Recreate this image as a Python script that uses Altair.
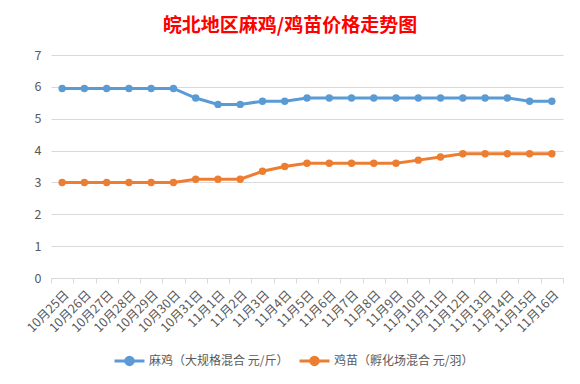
import altair as alt
import pandas as pd

dates = ["10月25日", "10月26日", "10月27日", "10月28日", "10月29日", "10月30日",
         "10月31日", "11月1日", "11月2日", "11月3日", "11月4日", "11月5日",
         "11月6日", "11月7日", "11月8日", "11月9日", "11月10日", "11月11日",
         "11月12日", "11月13日", "11月14日", "11月15日", "11月16日"]
ma_ji = [5.95, 5.95, 5.95, 5.95, 5.95, 5.95, 5.65, 5.45, 5.45, 5.55, 5.55, 5.65,
         5.65, 5.65, 5.65, 5.65, 5.65, 5.65, 5.65, 5.65, 5.65, 5.55, 5.55]
ji_miao = [3.0, 3.0, 3.0, 3.0, 3.0, 3.0, 3.1, 3.1, 3.1, 3.35, 3.5, 3.6,
           3.6, 3.6, 3.6, 3.6, 3.7, 3.8, 3.9, 3.9, 3.9, 3.9, 3.9]
series_names = ["麻鸡（大规格混合 元/斤）", "鸡苗（孵化场混合 元/羽）"]
colors = ["#5B9BD5", "#ED7D31"]

rows = []
for name, vals in zip(series_names, [ma_ji, ji_miao]):
    for d, v in zip(dates, vals):
        rows.append({"date": d, "series": name, "price": v})
df = pd.DataFrame(rows)

FONT = "Noto Sans CJK SC"
GREY = "#595959"

x = alt.X("date:N", sort=dates, title=None,
          scale=alt.Scale(paddingInner=0, paddingOuter=0),
          axis=alt.Axis(labelAngle=-45, labelColor=GREY, labelFontSize=12.5, labelFont=FONT,
                        domainColor="#D9D9D9", tickColor="#D9D9D9", tickSize=5,
                        tickBand="extent", labelPadding=5, grid=False))
y = alt.Y("price:Q", title=None,
          scale=alt.Scale(domain=[0, 7], nice=False),
          axis=alt.Axis(values=[0, 1, 2, 3, 4, 5, 6, 7], labelColor=GREY, labelFontSize=12.5,
                        labelFont=FONT, domain=False, ticks=False, gridColor="#D9D9D9",
                        labelPadding=10))
color = alt.Color("series:N", sort=series_names,
                  scale=alt.Scale(domain=series_names, range=colors),
                  legend=alt.Legend(title=None, orient="none", direction="horizontal",
                                    legendX=62, legendY=289,
                                    symbolType="M-1,0H1M-0.25,0A0.25,0.25 0 1,1 0.25,0A0.25,0.25 0 1,1 -0.25,0",
                                    symbolSize=900, symbolStrokeWidth=3,
                                    labelFont=FONT, labelFontSize=12, labelColor=GREY,
                                    labelOffset=3, columnPadding=4))

base = alt.Chart(df).encode(x=x, y=y, color=color)
lines = base.mark_line(strokeWidth=3)
points = base.mark_point(filled=True, size=55, opacity=1)

chart = (lines + points).properties(
    width=512, height=223,
    title=alt.Title("皖北地区麻鸡/鸡苗价格走势图", color="#FF0000", fontSize=19, font=FONT,
                    fontWeight="bold", anchor="middle", dx=-17, offset=13),
    autosize=alt.AutoSizeParams(type="none"),
    padding={"left": 43, "top": 47, "right": 8, "bottom": 95},
    background="white",
).configure_view(stroke=None)

chart.save("out.html", embed_options={"renderer": "svg", "actions": False})
